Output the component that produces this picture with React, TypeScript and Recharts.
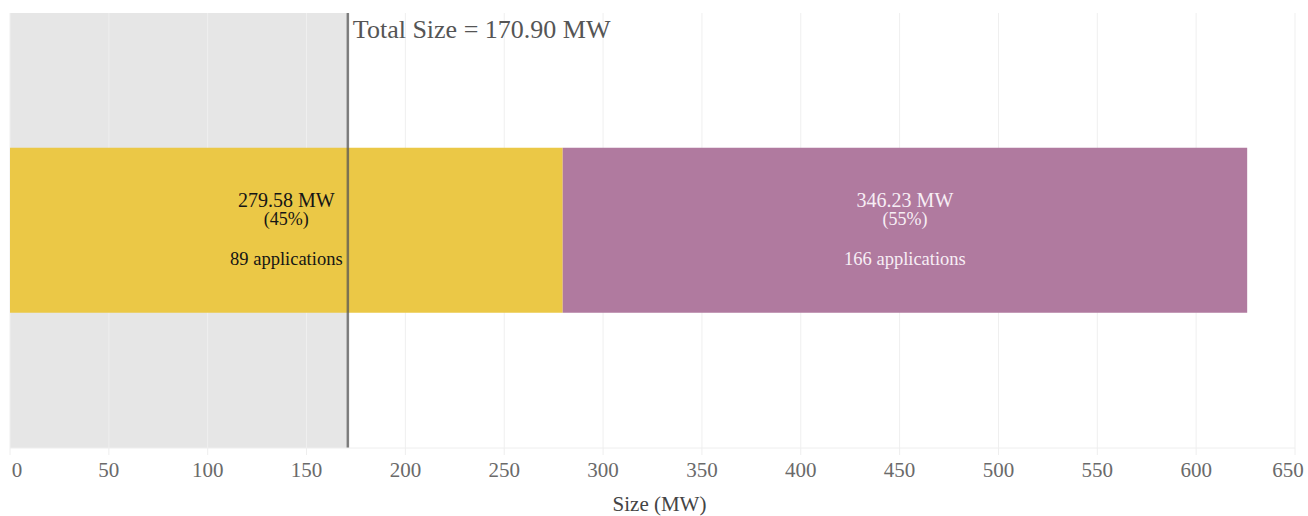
import React from 'react';
import { BarChart, Bar, XAxis, YAxis, ReferenceArea, ReferenceLine, LabelList } from 'recharts';

const categories = ['Applications'];
const segmentKeys = ['first', 'second'];
const segmentSizes = [279.58, 346.23];
const segmentShares = [45, 55];
const segmentApplications = [89, 166];
const totalSize = 170.9;
const tickValues = [0, 50, 100, 150, 200, 250, 300, 350, 400, 450, 500, 550, 600, 650];

const FONT = '"Liberation Serif", "DejaVu Serif", serif';
const colors = ['#ebc846', '#b07a9f'];
const textColors = ['#151515', '#f7eef5'];

const data = categories.map((name) => ({
  name,
  [segmentKeys[0]]: segmentSizes[0],
  [segmentKeys[1]]: segmentSizes[1],
}));

const SegmentLabel = (seg: number) => (props: any) => {
  const { x, y, width, height } = props;
  const cx = Number(x) + Number(width) / 2;
  const cy = Number(y) + Number(height) / 2;
  const fill = textColors[seg];
  return (
    <g fontFamily={FONT} fill={fill} textAnchor="middle">
      <text x={cx} y={cy - 23} fontSize={20}>
        {segmentSizes[seg].toFixed(2)} MW
      </text>
      <text x={cx} y={cy - 5} fontSize={18}>
        ({segmentShares[seg]}%)
      </text>
      <text x={cx} y={cy + 35} fontSize={18.5}>
        {segmentApplications[seg]} applications
      </text>
    </g>
  );
};

// edge labels pulled inward a little, like the original
const AxisTick = (props: any) => {
  const { x, y, payload, index } = props;
  let shift = 0;
  if (index === 0) shift = 7;
  if (index === tickValues.length - 1) shift = -7;
  return (
    <text
      x={Number(x) + shift}
      y={Number(y)}
      dy={22}
      textAnchor="middle"
      fill="#6a6a6a"
      fontSize={21}
      fontFamily={FONT}
    >
      {payload.value}
    </text>
  );
};

export default function App() {
  return (
    <div style={{ position: 'absolute', left: 0, top: 0, width: 1308, height: 516, background: '#fff' }}>
      <BarChart
        width={1308}
        height={516}
        data={data}
        layout="vertical"
        margin={{ top: 13, right: 13, bottom: 0, left: 10 }}
        barCategoryGap="31%"
      >
        <XAxis
          type="number"
          domain={[0, 650]}
          ticks={tickValues}
          height={68}
          axisLine={{ stroke: '#eeeeee' }}
          tickLine={{ stroke: '#eeeeee' }}
          tickSize={7}
          tickMargin={0}
          tick={<AxisTick />}
          label={{
            value: 'Size (MW)',
            position: 'insideBottom',
            offset: 5,
            dx: 7,
            fill: '#444',
            fontSize: 21,
            fontFamily: FONT,
          }}
        />
        <YAxis type="category" dataKey="name" hide />
        <ReferenceArea x1={0} x2={totalSize} fill="#e6e6e6" fillOpacity={1} stroke="none" zIndex={-90} />
        {tickValues.map((t) => (
          <ReferenceLine key={t} x={t} stroke="#efefef" strokeWidth={1} zIndex={-80} />
        ))}
        <Bar dataKey={segmentKeys[0]} stackId="a" fill={colors[0]} isAnimationActive={false}>
          <LabelList content={SegmentLabel(0)} />
        </Bar>
        <Bar dataKey={segmentKeys[1]} stackId="a" fill={colors[1]} isAnimationActive={false}>
          <LabelList content={SegmentLabel(1)} />
        </Bar>
        <ReferenceLine
          x={totalSize}
          stroke="#555"
          strokeOpacity={0.75}
          strokeWidth={2.5}
          zIndex={450}
          label={{
            value: `Total Size = ${totalSize.toFixed(2)} MW`,
            position: 'insideTopLeft',
            offset: 5,
            dy: 2,
            fill: '#555',
            fontSize: 26,
            fontFamily: FONT,
          }}
        />
      </BarChart>
    </div>
  );
}
